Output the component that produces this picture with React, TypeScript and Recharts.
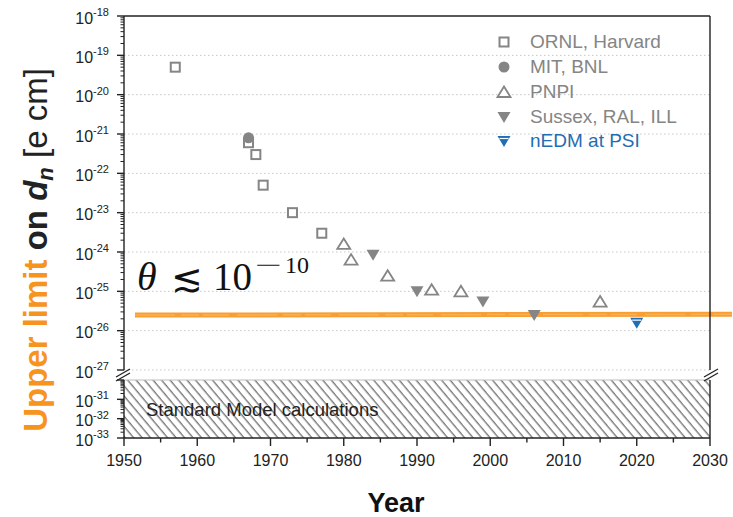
import React from 'react';
import {
  ComposedChart,
  ScatterChart,
  Scatter,
  Area,
  XAxis,
  YAxis,
  ReferenceLine,
  ReferenceArea,
  Legend,
  Label,
} from 'recharts';

const W = 733;
const H = 517;
const FONT = '"Liberation Sans", Arial, Helvetica, sans-serif';
const SERIF = '"Liberation Serif", "DejaVu Serif", serif';
const INK = '#222';
const GRAY = '#858585';
const BLUE = '#1f6db3';
const ORANGE = '#f7941d';

// neutron EDM upper limits [e cm] by year of publication
const ornlHarvard = [
  { year: 1957, limit: 5e-20 },
  { year: 1967, limit: 6e-22 },
  { year: 1968, limit: 3e-22 },
  { year: 1969, limit: 5e-23 },
  { year: 1973, limit: 1e-23 },
  { year: 1977, limit: 3e-24 },
];
const mitBnl = [{ year: 1967, limit: 8e-22 }];
const pnpi = [
  { year: 1980, limit: 1.6e-24 },
  { year: 1981, limit: 6.4e-25 },
  { year: 1986, limit: 2.5e-25 },
  { year: 1992, limit: 1.1e-25 },
  { year: 1996, limit: 1e-25 },
  { year: 2015, limit: 5.5e-26 },
];
const sussexRalIll = [
  { year: 1984, limit: 8.5e-25 },
  { year: 1990, limit: 1e-25 },
  { year: 1999, limit: 5.5e-26 },
  { year: 2006, limit: 2.5e-26 },
];
const nedmPsi = [{ year: 2020, limit: 1.6e-26 }];

// strong CP bound theta < 1e-10 expressed as a dn limit
const thetaBand = [
  { year: 1951.5, limit: 2.5e-26 },
  { year: 2033, limit: 2.6e-26 },
];

// Standard Model expectation, shown as a band on the lower axis segment
const smBand = [
  { year: 1950, range: [1e-33, 1e-30] },
  { year: 2030, range: [1e-33, 1e-30] },
];

const yearTicks = [1950, 1955, 1960, 1965, 1970, 1975, 1980, 1985, 1990, 1995, 2000, 2005, 2010, 2015, 2020, 2025, 2030];
const decadeTicks = [1950, 1960, 1970, 1980, 1990, 2000, 2010, 2020, 2030];
const upperDecades = [1e-27, 1e-26, 1e-25, 1e-24, 1e-23, 1e-22, 1e-21, 1e-20, 1e-19, 1e-18];
const lowerDecades = [1e-33, 1e-32, 1e-31, 1e-30];
const minorSteps = [2, 3, 4, 5, 6, 7, 8, 9];

const withMinor = (decades: number[]) => [
  ...decades,
  ...decades.slice(0, -1).flatMap((d) => minorSteps.map((k) => k * d)),
];

type MarkerKind = 'square' | 'circle' | 'up' | 'down' | 'nedm';

const legendRows: { name: string; kind: MarkerKind; color: string }[] = [
  { name: 'ORNL, Harvard', kind: 'square', color: GRAY },
  { name: 'MIT, BNL', kind: 'circle', color: GRAY },
  { name: 'PNPI', kind: 'up', color: GRAY },
  { name: 'Sussex, RAL, ILL', kind: 'down', color: GRAY },
  { name: 'nEDM at PSI', kind: 'nedm', color: BLUE },
];

function Marker({ kind, cx, cy }: { kind: MarkerKind; cx: number; cy: number }) {
  switch (kind) {
    case 'square':
      return <rect x={cx - 4.5} y={cy - 4.5} width={9} height={9} fill="#fff" stroke={GRAY} strokeWidth={2} />;
    case 'circle':
      return <circle cx={cx} cy={cy} r={5.5} fill={GRAY} />;
    case 'up':
      return (
        <path
          d={`M${cx},${cy - 5.5}L${cx + 6.5},${cy + 5}L${cx - 6.5},${cy + 5}Z`}
          fill="#fff"
          stroke={GRAY}
          strokeWidth={1.8}
        />
      );
    case 'down':
      return <path d={`M${cx - 6.5},${cy - 5}L${cx + 6.5},${cy - 5}L${cx},${cy + 6}Z`} fill={GRAY} />;
    case 'nedm':
      return (
        <g>
          <path d={`M${cx - 6.5},${cy - 5}L${cx + 6.5},${cy - 5}L${cx},${cy + 6}Z`} fill={BLUE} />
          <line x1={cx - 4.5} x2={cx + 4.5} y1={cy - 2.5} y2={cy - 2.5} stroke="#fff" strokeWidth={1.2} />
        </g>
      );
  }
}

const shapeOf = (kind: MarkerKind) => (p: any) => <Marker kind={kind} cx={p.cx} cy={p.cy} />;

const LegendBox = () => (
  <div style={{ fontFamily: FONT, fontSize: 19 }}>
    {legendRows.map((r) => (
      <div key={r.name} style={{ display: 'flex', alignItems: 'center', height: 24.75, color: r.color }}>
        <svg width={26} height={20}>
          <Marker kind={r.kind} cx={13} cy={10} />
        </svg>
        <span style={{ marginLeft: 13, lineHeight: '20px' }}>{r.name}</span>
      </div>
    ))}
  </div>
);

const isDecade = (v: number) => {
  const e = Math.log10(v);
  return Math.abs(e - Math.round(e)) < 1e-6;
};

const LogTick = (labelled: (v: number) => boolean) => (props: any) => {
  const { x, y, payload } = props;
  const v = payload.value as number;
  const major = isDecade(v);
  return (
    <g>
      <line x1={x - (major ? 7 : 3.5)} x2={x} y1={y} y2={y} stroke={INK} strokeWidth={major ? 1.4 : 1} />
      {major && labelled(v) && (
        <text x={x - 15} y={y + 7.5} textAnchor="end" fill={INK} fontFamily={FONT}>
          <tspan fontSize={16}>10</tspan>
          <tspan fontSize={11} dy={-7.5}>
            {Math.round(Math.log10(v))}
          </tspan>
        </text>
      )}
    </g>
  );
};

const YearTick = (props: any) => {
  const { x, y, payload } = props;
  const major = payload.value % 10 === 0;
  return (
    <g>
      <line x1={x} x2={x} y1={y} y2={y + (major ? 8 : 4.5)} stroke={INK} strokeWidth={1.4} />
      {major && (
        <text x={x} y={y + 28} textAnchor="middle" fill={INK} fontFamily={FONT} fontSize={16}>
          {payload.value}
        </text>
      )}
    </g>
  );
};

const axisLine = { stroke: INK, strokeWidth: 1.4 };

export default function App() {
  return (
    <div style={{ position: 'absolute', left: 0, top: 0, width: W, height: H, background: '#fff' }}>
      <svg width={0} height={0} style={{ position: 'absolute' }}>
        <defs>
          <pattern id="smHatch" patternUnits="userSpaceOnUse" width={6.5} height={20} patternTransform="rotate(-40)">
            <line x1={3} x2={3} y1={0} y2={20} stroke="#707070" strokeWidth={1.3} />
          </pattern>
        </defs>
      </svg>

      {/* upper panel: measured limits on a broken log axis */}
      <div style={{ position: 'absolute', left: 0, top: 0 }}>
        <ScatterChart width={W} height={H} margin={{ top: 16, right: 23, bottom: 147, left: 123 }}>
          <XAxis dataKey="year" type="number" domain={[1950, 2030]} hide />
          <XAxis
            xAxisId="top"
            orientation="top"
            type="number"
            domain={[1950, 2030]}
            ticks={decadeTicks}
            mirror
            height={1}
            tick={false}
            tickSize={5}
            axisLine={axisLine}
            tickLine={axisLine}
          />
          <YAxis
            dataKey="limit"
            type="number"
            scale="log"
            domain={[1e-27, 1e-18]}
            allowDataOverflow
            ticks={withMinor(upperDecades)}
            interval={0}
            width={1}
            tickSize={0}
            tickMargin={0}
            tickLine={false}
            axisLine={axisLine}
            tick={LogTick(() => true)}
          />
          <YAxis
            yAxisId="right"
            orientation="right"
            type="number"
            scale="log"
            domain={[1e-27, 1e-18]}
            allowDataOverflow
            ticks={upperDecades}
            interval={0}
            mirror
            width={1}
            tick={false}
            tickSize={6}
            axisLine={axisLine}
            tickLine={axisLine}
          />
          {upperDecades.slice(0, -1).map((d) => (
            <ReferenceLine key={d} y={d} stroke="#c6c6c6" strokeDasharray="1.5 2.5" />
          ))}
          <ReferenceLine
            segment={thetaBand.map((p) => ({ x: p.year, y: p.limit }))}
            ifOverflow="visible"
            stroke={ORANGE}
            strokeWidth={5}
            strokeOpacity={0.9}
          />
          <ReferenceLine
            segment={thetaBand.map((p) => ({ x: p.year, y: p.limit }))}
            ifOverflow="visible"
            stroke="#fbb04f"
            strokeWidth={1.5}
            strokeDasharray="40 6 18 4 26 8"
          />
          <Scatter name="ORNL, Harvard" data={ornlHarvard} shape={shapeOf('square')} isAnimationActive={false} />
          <Scatter name="MIT, BNL" data={mitBnl} shape={shapeOf('circle')} isAnimationActive={false} />
          <Scatter name="PNPI" data={pnpi} shape={shapeOf('up')} isAnimationActive={false} />
          <Scatter name="Sussex, RAL, ILL" data={sussexRalIll} shape={shapeOf('down')} isAnimationActive={false} />
          <Scatter name="nEDM at PSI" data={nedmPsi} shape={shapeOf('nedm')} isAnimationActive={false} />
          <Legend
            layout="vertical"
            align="center"
            verticalAlign="middle"
            content={() => <LegendBox />}
            wrapperStyle={{ left: 491, top: 30, width: 220 }}
          />
        </ScatterChart>
      </div>

      {/* lower panel: Standard Model expectation */}
      <div style={{ position: 'absolute', left: 0, top: 0 }}>
        <ComposedChart data={smBand} width={W} height={H} margin={{ top: 380, right: 23, bottom: 49, left: 123 }}>
          <XAxis
            type="number"
            dataKey="year"
            domain={[1950, 2030]}
            ticks={yearTicks}
            interval={0}
            height={30}
            tickSize={0}
            tickMargin={0}
            tickLine={false}
            axisLine={axisLine}
            tick={YearTick}
          />
          <YAxis
            type="number"
            scale="log"
            domain={[1e-33, 1e-30]}
            allowDataOverflow
            ticks={withMinor(lowerDecades)}
            interval={0}
            width={1}
            tickSize={0}
            tickMargin={0}
            tickLine={false}
            axisLine={axisLine}
            tick={LogTick((v) => v < 5e-31)}
          />
          <YAxis
            yAxisId="right"
            orientation="right"
            type="number"
            scale="log"
            domain={[1e-33, 1e-30]}
            allowDataOverflow
            ticks={[1e-32, 1e-31]}
            interval={0}
            mirror
            width={1}
            tick={false}
            tickSize={6}
            axisLine={axisLine}
            tickLine={axisLine}
          />
          <Area
            dataKey="range"
            type="linear"
            fill="url(#smHatch)"
            fillOpacity={1}
            stroke="none"
            isAnimationActive={false}
            activeDot={false}
            dot={false}
          />
          <ReferenceArea x1={1950} x2={2030} y1={1e-33} y2={1e-30} fill="none" stroke="none">
            <Label
              value="Standard Model calculations"
              position="insideLeft"
              offset={22}
              fill={INK}
              fontSize={18.5}
              fontFamily={FONT}
            />
          </ReferenceArea>
          <ReferenceLine y={1e-30} stroke="#bdbdbd" strokeWidth={1.2} />
        </ComposedChart>
      </div>

      {/* titles, theta annotation and axis break marks */}
      <svg width={W} height={H} style={{ position: 'absolute', left: 0, top: 0, pointerEvents: 'none' }}>
        <text transform="translate(47,250) rotate(-90)" textAnchor="middle" fontFamily={FONT} fontSize={33}>
          <tspan fill={ORANGE} fontWeight="bold">{'Upper limit '}</tspan>
          <tspan fill={INK} fontWeight="bold">{'on '}</tspan>
          <tspan fill={INK} fontWeight="bold" fontStyle="italic">d</tspan>
          <tspan fill={INK} fontWeight="bold" fontStyle="italic" fontSize={22} dy={6}>n</tspan>
          <tspan fill={INK} dy={-6}>{' [e cm]'}</tspan>
        </text>
        <text x={396} y={512} textAnchor="middle" fontFamily={FONT} fontSize={27} fontWeight="bold" fill="#111">
          Year
        </text>

        <g fill="#111" fontFamily={SERIF}>
          <text x={137} y={290} fontSize={40} fontStyle="italic">θ</text>
          <text x={171} y={291} fontSize={38}>≲</text>
          <text x={213} y={290} fontSize={39}>10</text>
          <text x={255} y={273} fontSize={24} textLength={27} lengthAdjust="spacingAndGlyphs">−</text>
          <text x={285} y={273} fontSize={24}>10</text>
        </g>

        <g stroke={INK} strokeWidth={1.3}>
          <line x1={116} y1={377} x2={130} y2={369} />
          <line x1={116} y1={381} x2={130} y2={373} />
          <line x1={704} y1={377} x2={718} y2={369} />
          <line x1={704} y1={381} x2={718} y2={373} />
        </g>
      </svg>
    </div>
  );
}
